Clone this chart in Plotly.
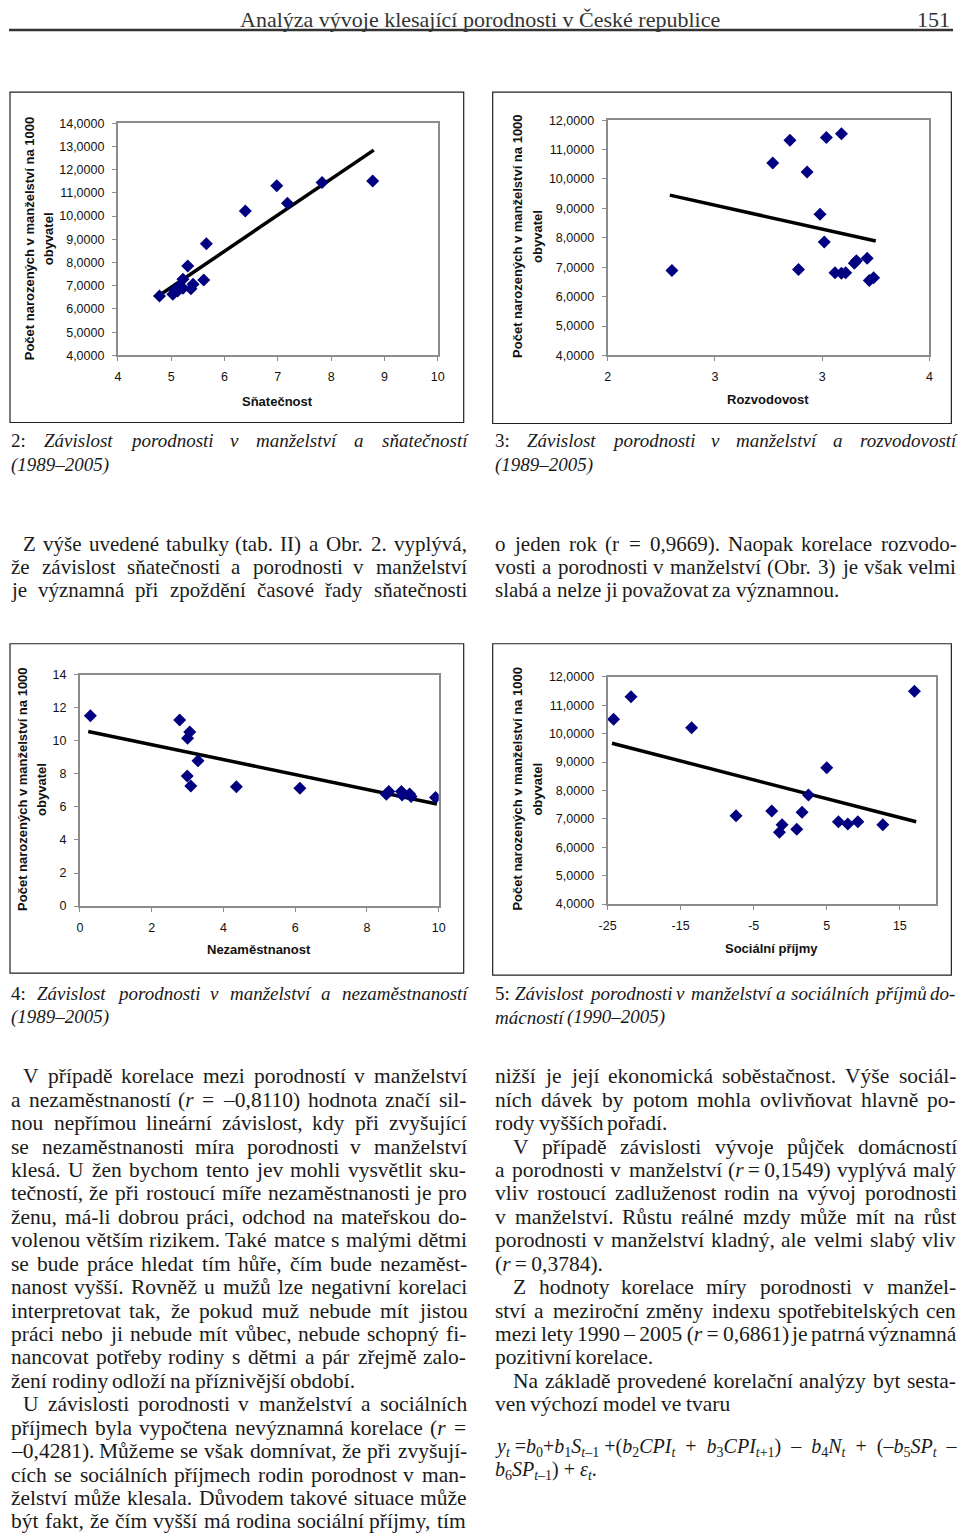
import re
import unicodedata
import plotly.graph_objects as go

W, H = 960, 1536
# The photographed page comes out slightly shrunk and shifted (about 0.984 x 0.990, +8px);
# reference pixel positions are mapped through the inverse so the picture lines up.
SX, SY, SHIFT = 0.984, 0.9897, 8

# ---------------- data ----------------
# Chart 2: Sňatečnost
c1_x = [4.78, 5.03, 5.06, 5.12, 5.16, 5.22, 5.22, 5.31, 5.37, 5.41, 5.61, 5.66, 6.39, 6.98, 7.18, 7.83, 8.78]
c1_y = [6.56, 6.63, 6.80, 6.77, 6.99, 6.89, 7.28, 7.85, 6.87, 7.06, 7.25, 8.81, 10.22, 11.30, 10.55, 11.44, 11.51]
c1_trend_x = [4.78, 8.80]
c1_trend_y = [6.59, 12.84]

# Chart 3: Rozvodovost
c2_x = [2.30, 2.77, 2.85, 2.93, 2.89, 2.99, 3.01, 3.02, 3.09, 3.06, 3.09, 3.11, 3.15, 3.16, 3.21, 3.22, 3.24]
c2_y = [6.89, 10.54, 11.32, 10.24, 6.92, 8.80, 7.86, 11.41, 11.54, 6.81, 6.79, 6.81, 7.13, 7.22, 7.30, 6.55, 6.64]
c2_trend_x = [2.29, 3.25]
c2_trend_y = [9.45, 7.89]
c2_tickvals = [2, 2.5, 3, 3.5]
c2_ticktext = ["2", "3", "3", "4"]

# Chart 4: Nezaměstnanost
c3_x = [0.29, 2.78, 3.06, 3.00, 3.29, 2.99, 3.09, 4.36, 6.13, 8.54, 8.61, 8.96, 8.98, 9.19, 9.23, 9.91]
c3_y = [11.52, 11.27, 10.53, 10.16, 8.79, 7.88, 7.27, 7.23, 7.13, 6.77, 6.93, 6.93, 6.73, 6.79, 6.63, 6.57]
c3_trend_x = [0.23, 9.95]
c3_trend_y = [10.57, 6.18]

# Chart 5: Sociální příjmy
c4_x = [-24.18, -21.8, -13.5, -7.42, -2.53, -1.48, -1.12, 0.89, 1.62, 2.49, 5.0, 6.6, 7.88, 9.25, 12.67, 17.0]
c4_y = [10.51, 11.30, 10.21, 7.11, 7.28, 6.53, 6.79, 6.63, 7.23, 7.84, 8.80, 6.90, 6.82, 6.90, 6.79, 11.49]
c4_trend_x = [-24.4, 17.24]
c4_trend_y = [9.66, 6.90]
c4_tickvals = [-25, -15, -5, 5, 15]
c4_ticktext = ["-25", "-15", "-5", "5", "15"]

y_title_1 = "Počet narozených v manželství na 1000"
y_title_2 = "obyvatel"
x_titles = ["Sňatečnost", "Rozvodovost", "Nezaměstnanost", "Sociální příjmy"]

header = "Analýza vývoje klesající porodnosti v České republice"
page_no = "151"

caption_nums = ["2:", "3:", "4:", "5:"]
caption_line1 = [
    "Závislost porodnosti v manželství a sňatečností",
    "Závislost porodnosti v manželství a rozvodovostí",
    "Závislost porodnosti v manželství a nezaměstnaností",
    "Závislost porodnosti v manželství a sociálních příjmů do-",
]
caption_line2 = ["(1989–2005)", "(1989–2005)", "(1989–2005)", "mácností (1990–2005)"]

TS = "\u2009"  # thin space
mid_left = [
    "Z výše uvedené tabulky (tab. II) a Obr. 2. vyplývá,",
    "že závislost sňatečnosti a porodnosti v manželství",
    "je významná při zpoždění časové řady sňatečnosti",
]
mid_left_indent = {0}
mid_left_last = set()
mid_right = [
    "o jeden rok (r = 0,9669). Naopak korelace rozvodo-",
    "vosti a porodnosti v manželství (Obr. 3) je však velmi",
    "slabá a nelze ji považovat za významnou.",
]
mid_right_indent = set()
mid_right_last = {2}

bot_left = [
    "V případě korelace mezi porodností v manželství",
    "a nezaměstnaností (<i>r</i> = –0,8110) hodnota značí sil-",
    "nou nepřímou lineární závislost, kdy při zvyšující",
    "se nezaměstnanosti míra porodnosti v manželství",
    "klesá. U žen bychom tento jev mohli vysvětlit sku-",
    "tečností, že při rostoucí míře nezaměstnanosti je pro",
    "ženu, má-li dobrou práci, odchod na mateřskou do-",
    "volenou větším rizikem. Také matce s malými dětmi",
    "se bude práce hledat tím hůře, čím bude nezaměst-",
    "nanost vyšší. Rovněž u mužů lze negativní korelaci",
    "interpretovat tak, že pokud muž nebude mít jistou",
    "práci nebo ji nebude mít vůbec, nebude schopný fi-",
    "nancovat potřeby rodiny s dětmi a pár zřejmě zalo-",
    "žení rodiny odloží na příznivější období.",
    "U závislosti porodnosti v manželství a sociálních",
    "příjmech byla vypočtena nevýznamná korelace (<i>r</i> =",
    "–0,4281). Můžeme se však domnívat, že při zvyšují-",
    "cích se sociálních příjmech rodin porodnost v man-",
    "želství může klesala. Důvodem takové situace může",
    "být fakt, že čím vyšší má rodina sociální příjmy, tím",
]
bot_left_indent = {0, 14}
bot_left_last = {13}
bot_right = [
    "nižší je její ekonomická soběstačnost. Výše sociál-",
    "ních dávek by potom mohla ovlivňovat hlavně po-",
    "rody vyšších pořadí.",
    "V případě závislosti vývoje půjček domácností",
    f"a porodnosti v manželství (<i>r</i>{TS}={TS}0,1549) vyplývá malý",
    "vliv rostoucí zadluženost rodin na vývoj porodnosti",
    "v manželství. Růstu reálné mzdy může mít na růst",
    "porodnosti v manželství kladný, ale velmi slabý vliv",
    f"(<i>r</i>{TS}={TS}0,3784).",
    "Z hodnoty korelace míry porodnosti v manžel-",
    "ství a meziroční změny indexu spotřebitelských cen",
    f"mezi lety 1990{TS}–{TS}2005{TS}(<i>r</i>{TS}={TS}0,6861) je patrná významná",
    "pozitivní korelace.",
    "Na základě provedené korelační analýzy byt sesta-",
    "ven výchozí model ve tvaru",
]
bot_right_indent = {3, 9, 13}
bot_right_last = {2, 8, 12, 14}

formula_1 = ("<i>y</i><sub><i>t</i></sub> =<i>b</i><sub>0</sub>+<i>b</i><sub>1</sub><i>S</i><sub><i>t</i>–1</sub>"
             " +(<i>b</i><sub>2</sub><i>CPI</i><sub><i>t</i></sub>  +  <i>b</i><sub>3</sub><i>CPI</i><sub><i>t</i>+1</sub>)"
             "  –  <i>b</i><sub>4</sub><i>N</i><sub><i>t</i></sub>  +  (–<i>b</i><sub>5</sub><i>SP</i><sub><i>t</i></sub>  –")
formula_2 = "<i>b</i><sub>6</sub><i>SP</i><sub><i>t</i>–1</sub>) + <i>ε</i><sub><i>t</i></sub>."

# ---------------- text metrics (Times-compatible widths, 1/1000 em) ----------------
ROMAN = {" ": 250, "(": 333, ")": 333, ",": 250, "-": 333, ".": 250, ":": 278, "=": 564, "–": 500,
         "\u2009": 200, "A": 722, "B": 667, "C": 667, "D": 722, "E": 611, "F": 556, "G": 722, "H": 722,
         "I": 333, "J": 389, "K": 722, "L": 611, "M": 889, "N": 722, "O": 722, "P": 556, "Q": 722,
         "R": 667, "S": 556, "T": 611, "U": 722, "V": 722, "W": 944, "X": 722, "Y": 722, "Z": 611,
         "a": 444, "b": 500, "c": 444, "d": 500, "e": 444, "f": 333, "g": 500, "h": 500, "i": 278,
         "j": 278, "k": 500, "l": 278, "m": 778, "n": 500, "o": 500, "p": 500, "q": 500, "r": 333,
         "s": 389, "t": 278, "u": 500, "v": 500, "w": 722, "x": 500, "y": 500, "z": 444}
ITALIC = {" ": 250, "(": 333, ")": 333, ",": 250, "-": 333, ".": 250, ":": 333, "=": 675, "–": 500,
          "\u2009": 200, "Z": 556, "a": 500, "b": 500, "c": 444, "d": 500, "e": 444, "f": 278, "g": 500,
          "h": 500, "i": 278, "j": 278, "k": 444, "l": 278, "m": 722, "n": 500, "o": 500, "p": 500,
          "q": 500, "r": 389, "s": 389, "t": 278, "u": 500, "v": 444, "w": 667, "x": 444, "y": 444,
          "z": 389}


def char_units(ch, italic):
    table = ITALIC if italic else ROMAN
    if ch.isdigit():
        return 500
    if ch in table:
        return table[ch]
    base = unicodedata.normalize("NFD", ch)[0]
    return table.get(base, ROMAN.get(base, 500))


def text_units(s, italic=False):
    total = 0
    for part in re.split(r"(</?i>)", s):
        if part == "<i>":
            italic = True
        elif part == "</i>":
            italic = False
        else:
            total += sum(char_units(c, italic) for c in part)
    return total


# ---------------- layout geometry (reference page pixels -> paper) ----------------
def px(x):
    f = (x - SHIFT) / SX
    return min(max(f / W, 0.0), 1.0)

def py(y):
    f = (y - SHIFT) / SY
    return min(max(1 - f / H, 0.0), 1.0)

SANS = "Liberation Sans, Arial, sans-serif"
SERIF = "Liberation Serif, Times New Roman, serif"
NAVY = "#000080"

fig = go.Figure()

charts = [
    dict(x=c1_x, y=c1_y, tx=c1_trend_x, ty=c1_trend_y, plot=(117, 124, 437, 356), frame=(9, 93, 463, 423)),
    dict(x=c2_x, y=c2_y, tx=c2_trend_x, ty=c2_trend_y, plot=(607, 121, 929, 356), frame=(492, 93, 951, 424)),
    dict(x=c3_x, y=c3_y, tx=c3_trend_x, ty=c3_trend_y, plot=(79, 675, 438, 906), frame=(9, 644, 463, 973)),
    dict(x=c4_x, y=c4_y, tx=c4_trend_x, ty=c4_trend_y, plot=(607, 677, 936, 904), frame=(492, 644, 951, 975)),
]

tickfont = dict(family=SANS, size=12.5, color="#111")
axis_common = dict(showgrid=False, zeroline=False, showline=True, mirror=True,
                   linecolor="#8c8c8c", linewidth=2, ticks="outside", ticklen=4,
                   tickcolor="#8c8c8c", tickfont=tickfont)

xcfg = [
    dict(range=[4, 10], tick0=4, dtick=1),
    dict(range=[2, 3.5], tickvals=c2_tickvals, ticktext=c2_ticktext),
    dict(range=[0, 10], tick0=0, dtick=2),
    dict(range=[-25, 20], tickvals=c4_tickvals, ticktext=c4_ticktext),
]
ycfg = [
    dict(range=[4, 14], tick0=4, dtick=1, tickformat=".4f"),
    dict(range=[4, 12], tick0=4, dtick=1, tickformat=".4f"),
    dict(range=[0, 14], tick0=0, dtick=2),
    dict(range=[4, 12], tick0=4, dtick=1, tickformat=".4f"),
]

shapes = []
annotations = []

for i, c in enumerate(charts):
    n = "" if i == 0 else str(i + 1)
    xa, ya = "x" + n, "y" + n
    fig.add_trace(go.Scatter(x=c["tx"], y=c["ty"], mode="lines", xaxis=xa, yaxis=ya,
                             line=dict(color="black", width=3.5), showlegend=False, hoverinfo="skip"))
    fig.add_trace(go.Scatter(x=c["x"], y=c["y"], mode="markers", xaxis=xa, yaxis=ya,
                             marker=dict(symbol="diamond", size=10, color=NAVY,
                                         line=dict(width=0)), showlegend=False))
    l, t, r, b = c["plot"]
    fig.update_layout(**{
        "xaxis" + n: dict(domain=[px(l), px(r)], anchor=ya, ticklabelstandoff=5, **xcfg[i], **axis_common),
        "yaxis" + n: dict(domain=[py(b), py(t)], anchor=xa, ticklabelstandoff=5, **ycfg[i], **axis_common),
    })
    fl, ft, fr, fb = c["frame"]
    shapes.append(dict(type="rect", xref="paper", yref="paper", x0=px(fl), x1=px(fr),
                       y0=py(fb), y1=py(ft), line=dict(color="#222", width=1.2)))

# axis titles
ytitle_pos = [(28, 47, 239), (517, 537, 237), (22, 41, 789), (517, 537, 789)]
xtitle_pos = [(277, 402), (768, 400), (258, 949), (771, 948)]
for i in range(4):
    x1, x2, yc = ytitle_pos[i]
    for xx, s in ((x1, y_title_1), (x2, y_title_2)):
        annotations.append(dict(x=px(xx), y=py(yc), xref="paper", yref="paper", text="<b>" + s + "</b>",
                                textangle=-90, showarrow=False, xanchor="center", yanchor="middle",
                                font=dict(family=SANS, size=13, color="#111")))
    xx, yy = xtitle_pos[i]
    annotations.append(dict(x=px(xx), y=py(yy), xref="paper", yref="paper", text="<b>" + x_titles[i] + "</b>",
                            showarrow=False, xanchor="center", yanchor="middle",
                            font=dict(family=SANS, size=13, color="#111")))


def line_text(x, y, s, size=20, anchor="left", color="#1a1a1a"):
    annotations.append(dict(x=px(x), y=py(y), xref="paper", yref="paper", text=s, showarrow=False,
                            xanchor=anchor, yanchor="middle",
                            font=dict(family=SERIF, size=size, color=color)))


def set_line(x0, x1, y, words, size, justify, italic_flags=None):
    """Place one typeset line word by word; justified lines spread the gaps to reach x1."""
    if italic_flags is None:
        italic_flags = [False] * len(words)
    k = size * SX / 1000.0
    widths = [text_units(w, it) * k for w, it in zip(words, italic_flags)]
    space = 250 * k
    gap = space
    if justify and len(words) > 1:
        gap = (x1 - 2 - x0 - sum(widths)) / (len(words) - 1)
        gap = max(gap, 0.7 * space)
    x = x0
    for w, wd, it in zip(words, widths, italic_flags):
        line_text(x, y, "<i>" + w + "</i>" if it else w, size)
        x += wd + gap


# header
line_text(479, 20, header, size=22, anchor="center", color="#333")
line_text(952, 20, page_no, size=22, anchor="right", color="#333")
shapes.append(dict(type="line", xref="paper", yref="paper", x0=0, x1=1, y0=py(31), y1=py(31),
                   line=dict(color="#333", width=2.5)))

# captions
cap_pos = [(8, 465, 441), (492, 955, 441), (8, 465, 993), (492, 955, 993)]
for (cx0, cx1, cy), num, l1, l2 in zip(cap_pos, caption_nums, caption_line1, caption_line2):
    words = [num] + l1.split(" ")
    set_line(cx0, cx1, cy, words, 19, True, [False] + [True] * (len(words) - 1))
    words2 = l2.split(" ")
    set_line(cx0, cx1, cy + 24, words2, 19, False, [True] * len(words2))

LH = 23.4
blocks = [
    (8, 20, 465, mid_left, mid_left_indent, mid_left_last, 544, 21),
    (492, 510, 955, mid_right, mid_right_indent, mid_right_last, 544, 21),
    (8, 20, 465, bot_left, bot_left_indent, bot_left_last, 1076, 21.5),
    (492, 510, 955, bot_right, bot_right_indent, bot_right_last, 1076, 21.5),
]
for x0, xin, x1, lines, indent, last, y0, fs in blocks:
    for k, s in enumerate(lines):
        start = xin if k in indent else x0
        set_line(start, x1, y0 + k * LH, s.split(" "), fs, k not in last)

line_text(492, 1447, formula_1, size=20)
line_text(492, 1470, formula_2, size=20)

fig.update_layout(width=W, height=H, margin=dict(l=0, r=0, t=0, b=0),
                  paper_bgcolor="white", plot_bgcolor="white", separators=", ",
                  showlegend=False, shapes=shapes, annotations=annotations)

fig.write_html("out.html", config={"displayModeBar": False},
               post_script="document.body.style.margin='0';document.body.style.padding='0';")
